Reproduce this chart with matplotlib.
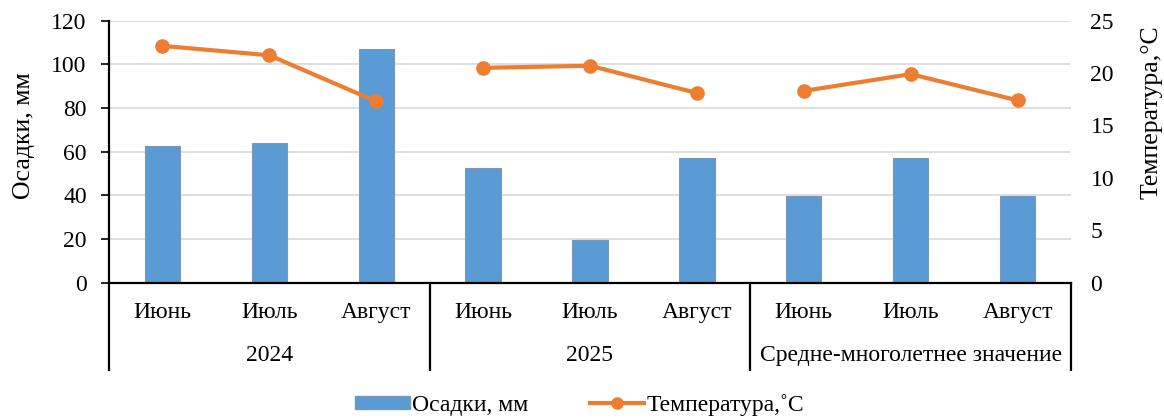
import matplotlib.pyplot as plt
from matplotlib.lines import Line2D
from matplotlib.patches import Patch
import matplotlib.transforms as mtransforms

plt.rcParams['font.family'] = ['Liberation Serif', 'DejaVu Serif']

## Data ---------------------------------------------

groups = ["2024", "2025", "Средне-многолетнее значение"]
months = ["Июнь", "Июль", "Август"]
precip = [62.6, 63.8, 106.9, 52.4, 19.6, 57.3, 39.9, 57.3, 39.9]   # мм
temp = [22.6, 21.7, 17.3, 20.5, 20.7, 18.1, 18.3, 19.9, 17.4]      # °C

BAR_COLOR = "#5B9BD5"
LINE_COLOR = "#ED7D31"
FS = 17

## Figure -------------------------------------------

fig = plt.figure(figsize=(11.64, 4.18), dpi=100)
ax = fig.add_axes([0.0936, 0.3237, 0.8265, 0.6268])
ax2 = ax.twinx()

n = len(precip)
x = list(range(n))
ax.bar(x, precip, width=0.33, color=BAR_COLOR, edgecolor="#7a96b8", linewidth=0.8, zorder=2)

# temperature is drawn per group so the line breaks between them
for g in range(len(groups)):
    xs = x[g * 3:(g + 1) * 3]
    ys = temp[g * 3:(g + 1) * 3]
    ax2.plot(xs, ys, color=LINE_COLOR, lw=3, marker="o", ms=9.5, solid_capstyle="round")

ax.set_xlim(-0.5, n - 0.5)
ax.set_ylim(0, 120)
ax.set_yticks(range(0, 121, 20))
ax2.set_ylim(0, 25)
ax2.set_yticks(range(0, 26, 5))

ax.grid(axis="y", color="#d9d9d9", lw=1.2, zorder=0)
ax.set_axisbelow(True)

for s in ["top", "right"]:
    ax.spines[s].set_visible(False)
for s in ax2.spines.values():
    s.set_visible(False)
ax.spines["bottom"].set_linewidth(1.6)
ax.spines["left"].set_linewidth(1.6)

ax.set_xticks([])
ax.tick_params(axis="y", labelsize=FS, length=6, width=1.2, pad=10)
ax2.tick_params(axis="y", labelsize=FS, length=0, pad=14)

ax.text(-0.088, 0.56, "Осадки, мм", transform=ax.transAxes, rotation=90,
        ha="center", va="center", fontsize=FS + 1.5)
ax.text(1.084, 0.65, "Температура,°С", transform=ax.transAxes, rotation=90,
        ha="center", va="center", fontsize=FS + 1.5)

## Category axis ------------------------------------

trans = mtransforms.blended_transform_factory(ax.transData, ax.transAxes)
for i in x:
    ax.text(i, -0.115, months[i % 3], transform=trans, ha="center", va="center", fontsize=FS)
for g, name in enumerate(groups):
    ax.text(g * 3 + 1, -0.276, name, transform=trans, ha="center", va="center", fontsize=FS)
for xb in [-0.5, 2.5, 5.5, 8.5]:
    ax.plot([xb, xb], [0, -0.334], transform=trans, color="black", lw=1.6, clip_on=False)

## Legend -------------------------------------------

handles = [
    Patch(facecolor=BAR_COLOR, edgecolor="#7a96b8"),
    Line2D([], [], color=LINE_COLOR, lw=3, marker="o", ms=8),
]
fig.legend(handles, ["Осадки, мм", "Температура,˚С"], loc="center", bbox_to_anchor=(0.498, 0.031),
           ncol=2, frameon=False, fontsize=FS, handlelength=2.3, handleheight=0.5,
           handletextpad=0.1, columnspacing=2.6)

fig.savefig("out.png", dpi=100)
